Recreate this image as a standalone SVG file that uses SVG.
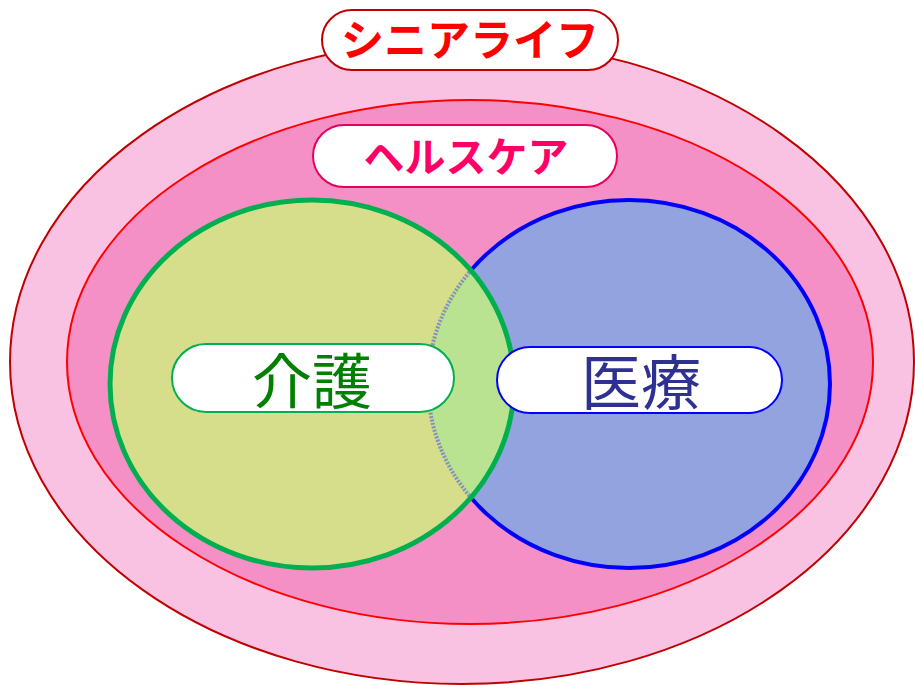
<svg xmlns="http://www.w3.org/2000/svg" width="915" height="685" viewBox="0 0 915 685">
<style>
.pill{fill:#ffffff;stroke-width:2}
.kata{font-family:"Noto Sans CJK JP","Noto Sans",sans-serif;font-weight:bold;text-anchor:middle}
.kanji{font-family:"Noto Sans CJK JP","Noto Sans",sans-serif;font-weight:normal;text-anchor:middle}
</style>
<defs>
<clipPath id="greenClip"><ellipse cx="312" cy="384" rx="202" ry="184"/></clipPath>
</defs>
<g id="senior-life">
<ellipse cx="462" cy="362" rx="452" ry="322" fill="#f9c2e2" stroke="#c00000" stroke-width="2"/>
</g>
<g id="healthcare">
<ellipse cx="470" cy="362" rx="403" ry="262" fill="#f490c6" stroke="#ff0000" stroke-width="2"/>
</g>
<g id="kaigo-circle">
<ellipse cx="312" cy="384" rx="202" ry="184" fill="#d6de8c"/>
</g>
<g id="iryo-circle">
<ellipse cx="629" cy="384" rx="201" ry="184" fill="#93a3e0" stroke="#0000ff" stroke-width="4"/>
</g>
<g id="overlap" clip-path="url(#greenClip)">
<ellipse cx="312" cy="384" rx="202" ry="184" fill="#d6de8c"/>
<ellipse cx="629" cy="384" rx="201" ry="184" fill="#b9e390" stroke="#8193b8" stroke-width="4" stroke-dasharray="2 1.5"/>
</g>
<g id="kaigo-outline">
<ellipse cx="312" cy="384" rx="202" ry="184" fill="none" stroke="#00b050" stroke-width="5"/>
</g>
<g id="label-senior">
<rect class="pill" x="322" y="10" width="296" height="60" rx="30" stroke="#c00000"/>
<text class="kata" x="470" y="56" font-size="43" fill="#ff0000">シニアライフ</text>
</g>
<g id="label-healthcare">
<rect class="pill" x="313" y="125" width="304" height="62" rx="31" stroke="#e8005a"/>
<text class="kata" x="466" y="172" font-size="41" fill="#ff0066">ヘルスケア</text>
</g>
<g id="label-kaigo">
<rect class="pill" x="172" y="344" width="282" height="68" rx="34" stroke="#00b050"/>
<text class="kanji" x="312" y="404" font-size="60" fill="#008000">介護</text>
</g>
<g id="label-iryo">
<rect class="pill" x="497" y="347" width="285" height="66" rx="33" stroke="#0000ff"/>
<text class="kanji" x="641" y="405" font-size="60" fill="#2e3192">医療</text>
</g>
<g id="connectors"></g>
</svg>
